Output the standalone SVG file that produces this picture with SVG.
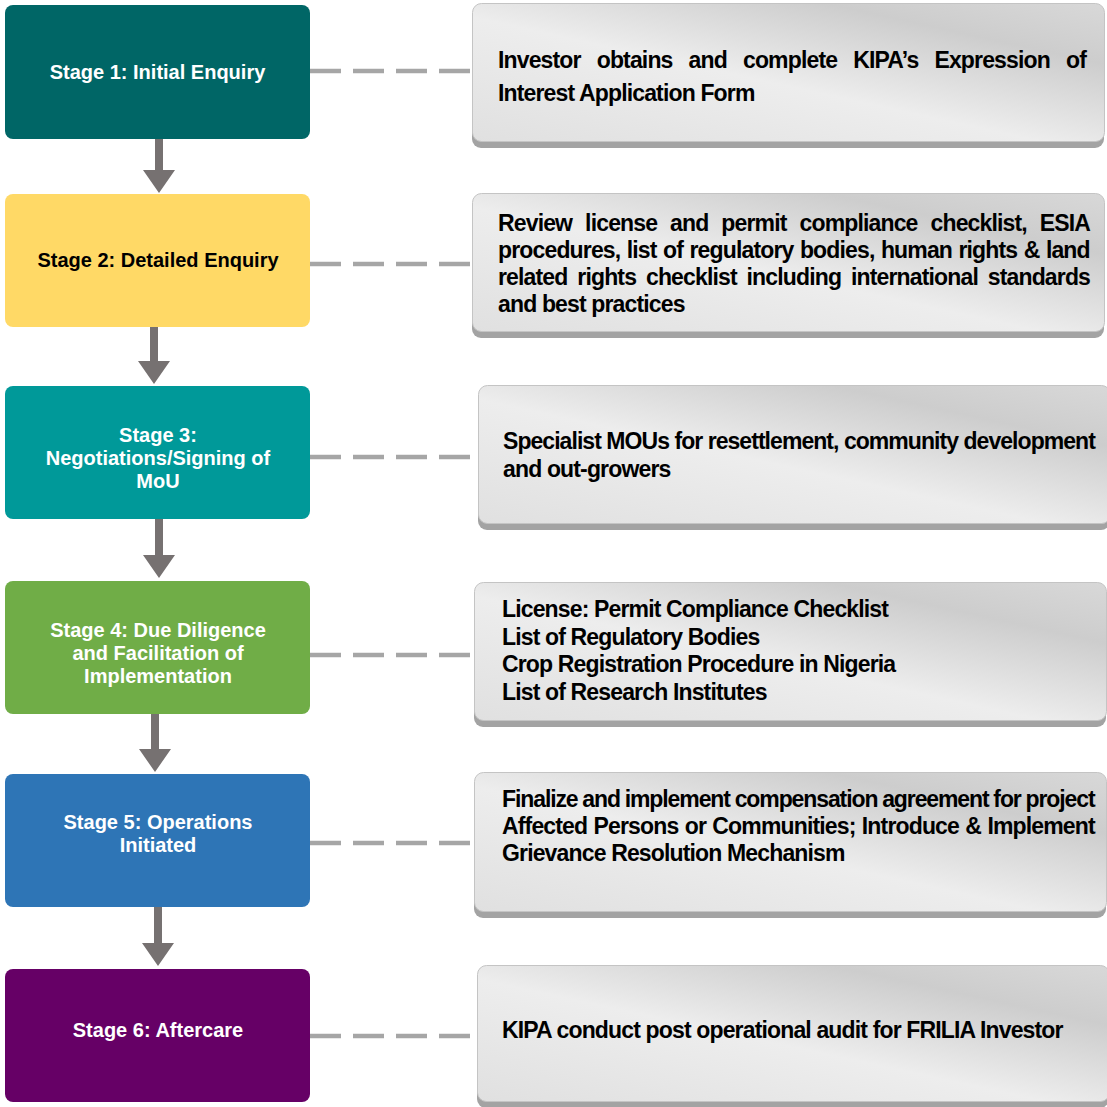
<svg xmlns="http://www.w3.org/2000/svg" width="1107" height="1107" viewBox="0 0 1107 1107">
<defs>
<linearGradient id="gbox" x1="0" y1="1" x2="1" y2="0">
<stop offset="0" stop-color="#e0e0e0"/>
<stop offset="0.45" stop-color="#ededed"/>
<stop offset="0.78" stop-color="#cdcdcd"/>
<stop offset="1" stop-color="#d8d8d8"/>
</linearGradient>
</defs>
<style>
.stage{font-family:"Liberation Sans",Arial,sans-serif;font-weight:bold;font-size:20px;fill:#ffffff;text-anchor:middle}
.dark{fill:#000000}
.desc{font-family:"Liberation Sans",Arial,sans-serif;font-weight:bold;font-size:23px;fill:#000000;letter-spacing:-0.85px}
.shadow{fill:#a3a3a3}
.panel{fill:url(#gbox);stroke:#c4c4c4;stroke-width:1}
.dash{stroke:#a6a6a6;stroke-width:4.5;stroke-dasharray:31 12;fill:none}
.shaft{fill:#767171}
</style>

<g id="connectors">
<line class="dash" x1="310" y1="71" x2="473" y2="71"/>
<line class="dash" x1="310" y1="264" x2="473" y2="264"/>
<line class="dash" x1="310" y1="457" x2="478" y2="457"/>
<line class="dash" x1="310" y1="655" x2="474" y2="655"/>
<line class="dash" x1="310" y1="843" x2="474" y2="843"/>
<line class="dash" x1="310" y1="1036" x2="477" y2="1036"/>
<path class="shaft" d="M155,134 h8 v36 h12 l-16,23 l-16,-23 h12 z"/>
<path class="shaft" d="M150,327 h8 v34 h12 l-16,23 l-16,-23 h12 z"/>
<path class="shaft" d="M155,519 h8 v36 h12 l-16,23 l-16,-23 h12 z"/>
<path class="shaft" d="M151,714 h8 v35 h12 l-16,23 l-16,-23 h12 z"/>
<path class="shaft" d="M154,907 h8 v36 h12 l-16,23 l-16,-23 h12 z"/>
</g>

<g id="stage1">
<rect x="5" y="5" width="305" height="134" rx="8" fill="#006666"/>
<text class="stage" x="157.5" y="79">Stage 1: Initial Enquiry</text>
</g>
<g id="stage2">
<rect x="5" y="194" width="305" height="133" rx="8" fill="#ffd966"/>
<text class="stage dark" x="158" y="267">Stage 2: Detailed Enquiry</text>
</g>
<g id="stage3">
<rect x="5" y="386" width="305" height="133" rx="8" fill="#009999"/>
<text class="stage" x="158" y="442">Stage 3:</text>
<text class="stage" x="158" y="465">Negotiations/Signing of</text>
<text class="stage" x="158" y="488">MoU</text>
</g>
<g id="stage4">
<rect x="5" y="581" width="305" height="133" rx="8" fill="#70ad47"/>
<text class="stage" x="158" y="637">Stage 4: Due Diligence</text>
<text class="stage" x="158" y="660">and Facilitation of</text>
<text class="stage" x="158" y="683">Implementation</text>
</g>
<g id="stage5">
<rect x="5" y="774" width="305" height="133" rx="8" fill="#2e75b6"/>
<text class="stage" x="158" y="829">Stage 5: Operations</text>
<text class="stage" x="158" y="852">Initiated</text>
</g>
<g id="stage6">
<rect x="5" y="969" width="305" height="133" rx="8" fill="#660066"/>
<text class="stage" x="158" y="1037">Stage 6: Aftercare</text>
</g>

<g id="desc1">
<rect class="shadow" x="472" y="10" width="632" height="138" rx="9"/>
<rect class="panel" x="472.5" y="3.5" width="632" height="138" rx="9"/>
<text class="desc" x="498" y="68" word-spacing="10.5">Investor obtains and complete KIPA’s Expression of</text>
<text class="desc" x="498" y="101">Interest Application Form</text>
</g>
<g id="desc2">
<rect class="shadow" x="472" y="200" width="632" height="138" rx="9"/>
<rect class="panel" x="472.5" y="193.5" width="632" height="138" rx="9"/>
<text class="desc" x="498" y="231" word-spacing="7.4">Review license and permit compliance checklist, ESIA</text>
<text class="desc" x="498" y="258" word-spacing="0.9">procedures, list of regulatory bodies, human rights &amp; land</text>
<text class="desc" x="498" y="285" word-spacing="4.3">related rights checklist including international standards</text>
<text class="desc" x="498" y="312">and best practices</text>
</g>
<g id="desc3">
<rect class="shadow" x="478" y="392" width="632" height="138" rx="9"/>
<rect class="panel" x="478.5" y="385.5" width="632" height="138" rx="9"/>
<text class="desc" x="503" y="449" style="letter-spacing:-0.95px" word-spacing="0">Specialist MOUs for resettlement, community development</text>
<text class="desc" x="503" y="477">and out-growers</text>
</g>
<g id="desc4">
<rect class="shadow" x="474" y="589" width="632" height="138" rx="9"/>
<rect class="panel" x="474.5" y="582.5" width="632" height="138" rx="9"/>
<text class="desc" x="502" y="617">License: Permit Compliance Checklist</text>
<text class="desc" x="502" y="645">List of Regulatory Bodies</text>
<text class="desc" x="502" y="672">Crop Registration Procedure in Nigeria</text>
<text class="desc" x="502" y="700">List of Research Institutes</text>
</g>
<g id="desc5">
<rect class="shadow" x="474" y="779" width="632" height="139" rx="9"/>
<rect class="panel" x="474.5" y="772.5" width="632" height="139" rx="9"/>
<text class="desc" x="502" y="807" style="letter-spacing:-1.1px" word-spacing="-0.5">Finalize and implement compensation agreement for project</text>
<text class="desc" x="502" y="834" word-spacing="0.8">Affected Persons or Communities; Introduce &amp; Implement</text>
<text class="desc" x="502" y="861">Grievance Resolution Mechanism</text>
</g>
<g id="desc6">
<rect class="shadow" x="477" y="972" width="632" height="136" rx="9"/>
<rect class="panel" x="477.5" y="965.5" width="632" height="136" rx="9"/>
<text class="desc" x="502" y="1038">KIPA conduct post operational audit for FRILIA Investor</text>
</g>
</svg>
